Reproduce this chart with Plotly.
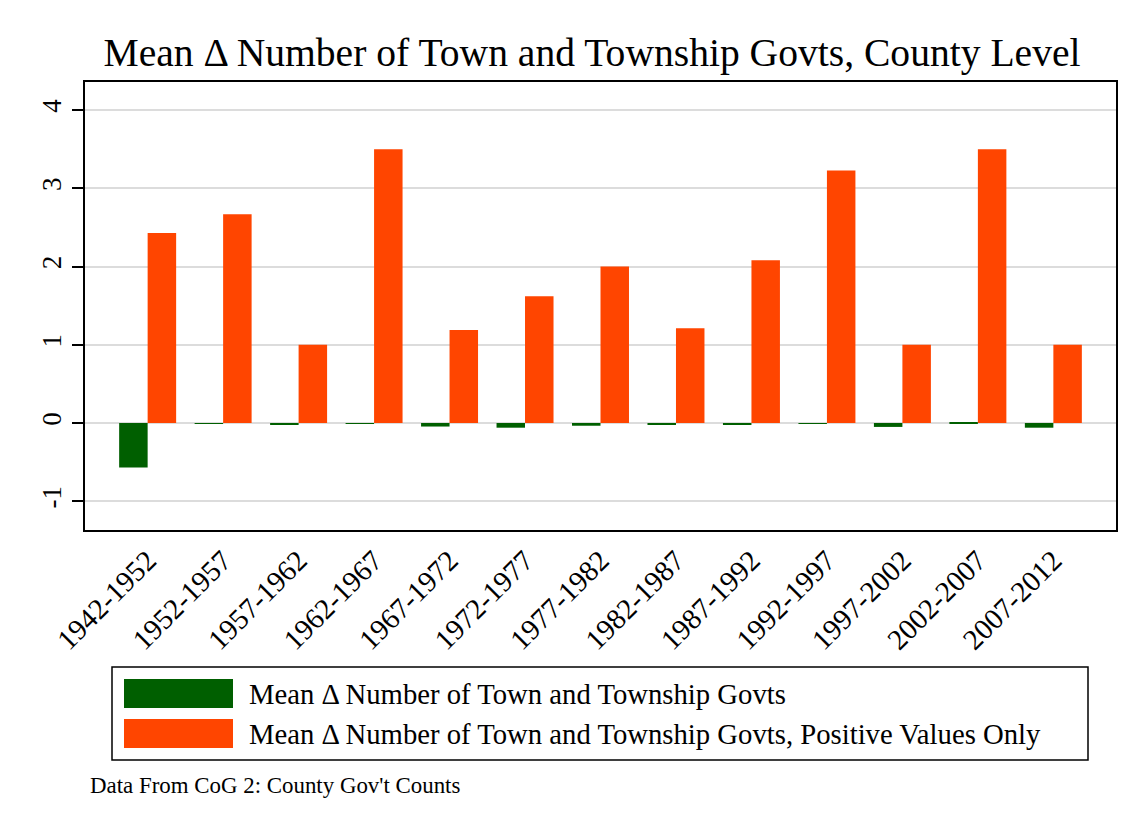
import plotly.graph_objects as go

categories = ["1942-1952", "1952-1957", "1957-1962", "1962-1967", "1967-1972",
              "1972-1977", "1977-1982", "1982-1987", "1987-1992", "1992-1997",
              "1997-2002", "2002-2007", "2007-2012"]
mean_change = [-0.57, -0.005, -0.025, -0.01, -0.045, -0.06, -0.035, -0.02,
               -0.015, -0.01, -0.05, 0.005, -0.06]
mean_positive = [2.43, 2.67, 1.0, 3.5, 1.19, 1.62, 2.0, 1.21, 2.08, 3.23, 1.0, 3.5, 1.0]
series_names = ["Mean \u0394 Number of Town and Township Govts",
                "Mean \u0394 Number of Town and Township Govts, Positive Values Only"]
colors = ["#005f00", "#ff4500"]
y_ticks = [-1, 0, 1, 2, 3, 4]
y_ticktext = ["-1", "0", "1", "2", "3", "4"]

FONT = "Liberation Serif, Times New Roman, serif"
W, H = 1146, 833
L, R, T, B = 85, 30, 82, 303
pw, ph = W - L - R, H - T - B

def px(x):
    return (x - L) / pw

def py(y):
    return (H - B - y) / ph

xpos = list(range(len(categories)))
fig = go.Figure()
fig.add_trace(go.Bar(x=xpos, y=mean_change, name=series_names[0],
                     marker=dict(color=colors[0], line=dict(width=0))))
fig.add_trace(go.Bar(x=xpos, y=mean_positive, name=series_names[1],
                     marker=dict(color=colors[1], line=dict(width=0))))

# custom legend
shapes = [dict(type="rect", xref="paper", yref="paper",
               x0=px(112), x1=px(1088), y0=py(760), y1=py(667),
               line=dict(color="black", width=1.5), fillcolor="white")]
annotations = []
rows = [(679, 708, 693.5), (719, 748, 733.5)]
for (y0, y1, yc), c, name in zip(rows, colors, series_names):
    shapes.append(dict(type="rect", xref="paper", yref="paper",
                       x0=px(124), x1=px(233), y0=py(y1), y1=py(y0),
                       line=dict(width=0), fillcolor=c))
    annotations.append(dict(xref="paper", yref="paper", x=px(247), y=py(yc),
                            xanchor="left", yanchor="middle", showarrow=False,
                            text=name, font=dict(family=FONT, size=28.7, color="black")))
annotations.append(dict(xref="paper", yref="paper", x=px(88), y=py(785),
                        xanchor="left", yanchor="middle", showarrow=False,
                        text="Data From CoG 2: County Gov't Counts",
                        font=dict(family=FONT, size=22.9, color="black")))

fig.update_layout(
    width=W, height=H,
    margin=dict(l=L, r=R, t=T, b=B, pad=0),
    paper_bgcolor="white", plot_bgcolor="white",
    barmode="group", bargap=0.245, bargroupgap=0,
    showlegend=False,
    font=dict(family=FONT, color="black"),
    title=dict(text="Mean \u0394 Number of Town and Township Govts, County Level",
               x=px(592), xref="paper", xanchor="center",
               y=1 - 52 / H, yref="container", yanchor="middle",
               font=dict(family=FONT, size=39.6, color="black")),
    xaxis=dict(tickmode="array", tickvals=xpos, ticktext=categories,
               range=[-0.83, len(categories) - 1 + 0.83],
               tickangle=-45, ticks="", showgrid=False, zeroline=False,
               showline=True, linecolor="black", linewidth=2, mirror=True,
               tickfont=dict(family=FONT, size=29, color="black")),
    yaxis=dict(tickmode="array", tickvals=y_ticks, ticktext=y_ticktext,
               range=[-1.368, 4.36],
               tickangle=-90, ticks="outside", ticklen=11, tickwidth=1.5,
               tickcolor="black", showgrid=True, gridcolor="#dcdcdc", gridwidth=2,
               zeroline=False, showline=True, linecolor="black", linewidth=2,
               mirror=True, tickfont=dict(family=FONT, size=27, color="black")),
    shapes=shapes, annotations=annotations,
)

fig.write_html("out.html")
